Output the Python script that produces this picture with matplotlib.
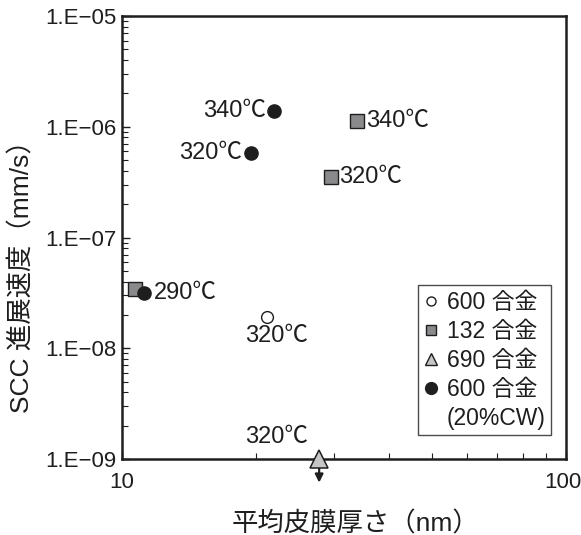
import matplotlib
matplotlib.use("Agg")
import matplotlib.pyplot as plt
import matplotlib.transforms as mtransforms
from matplotlib.lines import Line2D
from matplotlib.ticker import FixedLocator, LogLocator, NullFormatter

plt.rcParams['font.family'] = ['Liberation Sans', 'Noto Sans CJK JP', 'DejaVu Sans']

# Alloy 600 (open circle)
a600_x = [21.2]
a600_y = [1.93e-8]
a600_t = ["320℃"]

# Alloy 132 (grey square)
a132_x = [10.7, 29.5, 33.9]
a132_y = [3.40e-8, 3.54e-7, 1.13e-6]
a132_t = [None, "320℃", "340℃"]

# Alloy 690 (light triangle), below detection limit
a690_x = [27.8]
a690_y = [1.0e-9]
a690_t = ["320℃"]

# Alloy 600, 20% cold worked (black circle)
a600cw_x = [11.2, 19.5, 22.0]
a600cw_y = [3.17e-8, 5.75e-7, 1.40e-6]
a600cw_t = ["290℃", "320℃", "340℃"]

ytick_vals = [1e-9, 1e-8, 1e-7, 1e-6, 1e-5]
ytick_labels = ["1.E−09", "1.E−08", "1.E−07", "1.E−06", "1.E−05"]
xtick_vals = [10, 100]
xtick_labels = ["10", "100"]

fig = plt.figure(figsize=(5.81, 5.35), dpi=100)
ax = fig.add_axes([122/581, 1 - 459/535, (566-122)/581, (459-16)/535])
ax.set_xscale('log')
ax.set_yscale('log')
ax.set_xlim(10, 100)
ax.set_ylim(1e-9, 1e-5)

fs_tick = 16
fs_txt = 17
ink = '#1e1e1e'
ax.plot(a132_x, a132_y, linestyle='none', marker='s', markersize=10.5,
        markerfacecolor='#8a8a8c', markeredgecolor=ink, markeredgewidth=1.0, zorder=3)
ax.plot(a600cw_x, a600cw_y, linestyle='none', marker='o', markersize=9.5,
        markerfacecolor=ink, markeredgecolor=ink, zorder=4)
ax.plot(a600_x, a600_y, linestyle='none', marker='o', markersize=8.5,
        markerfacecolor='white', markeredgecolor=ink, markeredgewidth=1.0, zorder=4)
ax.plot(a690_x, a690_y, linestyle='none', marker='^', markersize=13,
        markerfacecolor='#c6c6c6', markeredgecolor=ink, markeredgewidth=1.1,
        zorder=5, clip_on=False)

# downward arrow: rate below the detection limit
for x, y in zip(a690_x, a690_y):
    ax.annotate("", xy=(x, y), xycoords='data', xytext=(0, -17), textcoords='offset points',
                arrowprops=dict(arrowstyle='<|-', color=ink, lw=1.6,
                                shrinkA=0, shrinkB=4, mutation_scale=12),
                annotation_clip=False)

# temperature labels
txt = dict(fontsize=fs_txt, color=ink)
ax.annotate(a600cw_t[0], (a600cw_x[0], a600cw_y[0]), xytext=(7, 0), textcoords='offset points',
            ha='left', va='center', **txt)
ax.annotate(a600cw_t[1], (a600cw_x[1], a600cw_y[1]), xytext=(-6, 0), textcoords='offset points',
            ha='right', va='center', **txt)
ax.annotate(a600cw_t[2], (a600cw_x[2], a600cw_y[2]), xytext=(-6, 0), textcoords='offset points',
            ha='right', va='center', **txt)
ax.annotate(a132_t[1], (a132_x[1], a132_y[1]), xytext=(6, 0), textcoords='offset points',
            ha='left', va='center', **txt)
ax.annotate(a132_t[2], (a132_x[2], a132_y[2]), xytext=(6, 0), textcoords='offset points',
            ha='left', va='center', **txt)
ax.annotate(a600_t[0], (a600_x[0], a600_y[0]), xytext=(7, -6), textcoords='offset points',
            ha='center', va='top', **txt)
ax.annotate(a690_t[0], (a690_x[0], a690_y[0]), xytext=(-31, 8), textcoords='offset points',
            ha='center', va='bottom', **txt)

# ticks
ax.xaxis.set_major_locator(FixedLocator(xtick_vals))
ax.set_xticklabels(xtick_labels)
ax.xaxis.set_minor_locator(LogLocator(base=10, subs=range(2, 10)))
ax.xaxis.set_minor_formatter(NullFormatter())
ax.yaxis.set_major_locator(FixedLocator(ytick_vals))
ax.set_yticklabels(ytick_labels)
ax.yaxis.set_minor_locator(LogLocator(base=10, subs=range(2, 10)))
ax.yaxis.set_minor_formatter(NullFormatter())
ax.tick_params(which='both', direction='in', top=False, right=False, color=ink)
ax.tick_params(which='major', length=6, width=1.0, labelsize=fs_tick, labelcolor=ink, pad=4)
ax.tick_params(which='minor', length=4, width=0.8)
ax.tick_params(axis='x', which='major', pad=9)

# keep the right-most x label inside the canvas
last = ax.get_xticklabels()[-1]
last.set_transform(last.get_transform() +
                   mtransforms.ScaledTranslation(-3.5/100, 0, fig.dpi_scale_trans))

for s in ax.spines.values():
    s.set_linewidth(1.8)
    s.set_color(ink)

ax.set_xlabel("平均皮膜厚さ（nm）", fontsize=19, color=ink)
ax.set_ylabel("SCC 進展速度（mm/s）", fontsize=19, color=ink)
ax.xaxis.set_label_coords(0.525, -0.118)
ax.yaxis.set_label_coords(-0.198, 0.427)

# legend
handles = [
    Line2D([], [], linestyle='none', marker='o', markersize=6.5, markerfacecolor='white',
           markeredgecolor=ink, markeredgewidth=1.0),
    Line2D([], [], linestyle='none', marker='s', markersize=7, markerfacecolor='#8a8a8c',
           markeredgecolor=ink, markeredgewidth=1.0),
    Line2D([], [], linestyle='none', marker='^', markersize=9, markerfacecolor='#c6c6c6',
           markeredgecolor=ink, markeredgewidth=1.0),
    Line2D([], [], linestyle='none', marker='o', markersize=8.5, markerfacecolor=ink,
           markeredgecolor=ink),
    Line2D([], [], linestyle='none'),
]
labels = ["600 合金", "132 合金", "690 合金", "600 合金", "(20%CW)"]
leg = ax.legend(handles, labels, loc='upper left', bbox_to_anchor=((418-122)/444, (459-285)/443),
                fontsize=16.5, frameon=True, fancybox=False, handlelength=0.65, handletextpad=0.35,
                labelspacing=0.26, borderpad=0.25, borderaxespad=0)
leg.get_frame().set_edgecolor(ink)
leg.get_frame().set_linewidth(1.0)
for t in leg.get_texts():
    t.set_color(ink)

fig.savefig("out.png", dpi=100)
